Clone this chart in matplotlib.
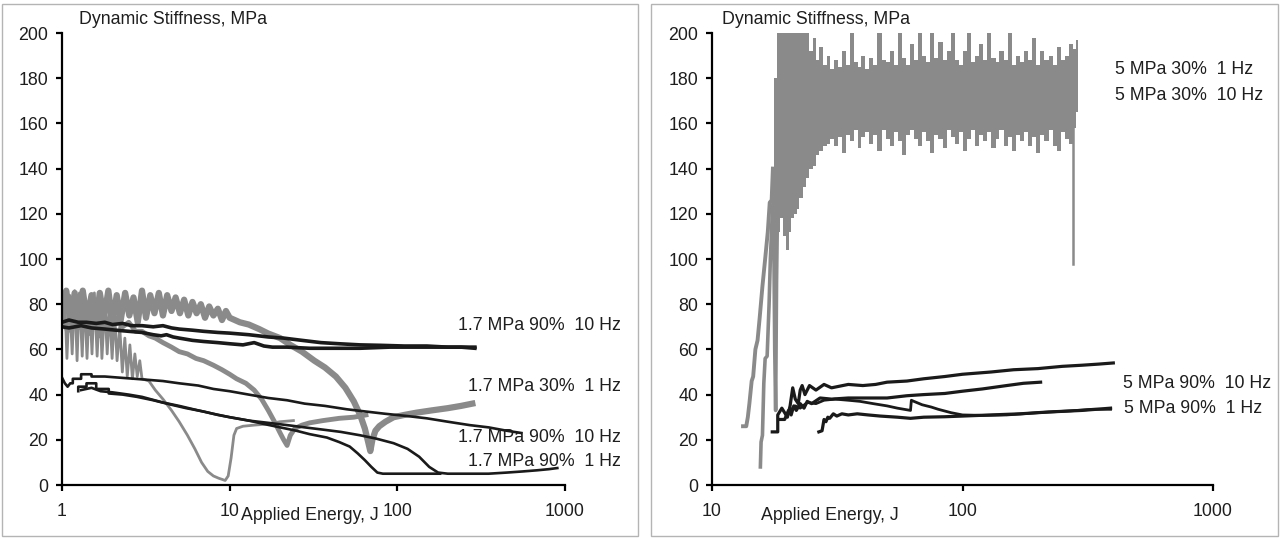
import matplotlib
matplotlib.use("Agg")
import matplotlib.pyplot as plt
from matplotlib.patches import Rectangle

plt.rcParams['font.family'] = ['Liberation Sans', 'DejaVu Sans']

# ---------------- data: left panel (1.7 MPa) ----------------
g1_x = [1.0, 1.035, 1.07, 1.11, 1.15, 1.19, 1.23, 1.27, 1.32, 1.36, 1.41, 1.46, 1.51, 1.56, 1.62, 1.68,
        1.73, 1.8, 1.86, 1.92, 1.99, 2.06, 2.13, 2.21, 2.29, 2.37, 2.45, 2.54, 2.63, 2.72, 2.81, 2.91,
        3.0, 3.3, 3.6, 4.0, 4.5, 5.0, 5.6, 6.2, 6.8, 7.4, 8.0, 8.6, 9.0, 9.4, 9.8, 10.2,
        10.6, 11.0, 12, 14, 17, 20, 24]
g1_y = [70, 85, 56, 84, 58, 86, 55, 85, 57, 84, 56, 83, 58, 85, 57, 82,
        56, 80, 58, 78, 56, 76, 55, 70, 50, 65, 48, 62, 47, 58, 48, 55,
        47, 46, 42, 38, 33, 28, 22, 16, 10, 6, 4, 3, 2.5, 2, 4, 12,
        22, 25, 26, 26.5, 27, 28, 28.5]

g2_x = [1.0, 1.08, 1.16, 1.25, 1.35, 1.45, 1.56, 1.68, 1.8, 1.95, 2.1, 2.3, 2.5, 2.75, 3.0, 3.3,
        3.6, 4.0, 4.5, 5.0, 5.6, 6.3, 7.0, 8.0, 9.0, 10, 11, 12.5, 14, 15.5, 17, 18.5,
        20, 21, 22, 23, 24.5, 27, 30, 36, 45, 55, 65]
g2_y = [75, 68, 80, 70, 78, 67, 76, 66, 75, 68, 74, 70, 72, 68, 68, 66,
        65, 63, 61, 59, 58, 56, 55, 53, 51, 49, 47, 45, 42, 38, 33, 28,
        23, 20, 17.5, 22, 25, 26.5, 27.5, 28.5, 29.5, 30, 31]

g3_x = [1.0, 1.06, 1.12, 1.19, 1.26, 1.33, 1.41, 1.5, 1.59, 1.68, 1.78, 1.89, 2.0, 2.12, 2.24, 2.38,
        2.52, 2.67, 2.83, 3.0, 3.17, 3.36, 3.56, 3.78, 4.0, 4.24, 4.5, 4.76, 5.05, 5.35, 5.67, 6.0,
        6.35, 6.73, 7.13, 7.55, 8.0, 8.5, 9.0, 9.5, 10.0, 11.5, 13, 15, 17, 20,
        23, 27, 32, 37, 43, 49, 55, 60, 64, 67, 69, 71, 74, 78, 85, 95,
        110, 130, 160, 200, 240, 280]
g3_y = [80, 86, 72, 85, 70, 86, 73, 84, 71, 85, 74, 86, 72, 84, 73, 85,
        75, 83, 72, 86, 74, 84, 76, 85, 75, 84, 77, 83, 76, 82, 75, 81,
        76, 80, 74, 79, 75, 78, 73, 77, 74, 72, 71, 69, 67, 65,
        62, 59, 55, 52, 48, 43, 37, 31, 25, 19, 15, 20, 24, 26, 28, 30,
        31, 32, 33, 34, 35, 36]

b1_x = [1.0, 1.1, 1.25, 1.4, 1.6, 1.8, 2.0, 2.3, 2.6, 3.0, 3.5, 4.0, 4.5, 5.0, 6, 7,
        8.5, 10, 13, 17, 21, 27, 35, 45, 60, 80, 110, 150, 200, 240, 290]
b1_y = [72, 73, 72, 72, 71.5, 72, 71, 71.5, 70.5, 70.5, 70, 70.5, 69.5, 69, 68.5, 68,
        67.5, 67.2, 66.5, 65.5, 65, 64, 63, 62.5, 62, 61.8, 61.5, 61.5, 61, 61, 60.5]

b2_x = [1.0, 1.1, 1.3, 1.5, 1.8, 2.1, 2.5, 3.0, 3.5, 3.9, 4.2, 4.6, 5.0, 6, 7, 8.5,
        10, 12, 14, 16, 18, 22, 30, 40, 60, 90, 130, 180, 240, 290]
b2_y = [70, 69.5, 70.5, 69.5, 69, 68.5, 68, 67.5, 66.5, 66, 66.5, 65.5, 65, 64, 63.5, 63,
        62.5, 62, 63, 61.5, 61, 61, 60.5, 60.5, 60.5, 61, 61, 61, 61, 61]

b3_x = [1.0, 1.04, 1.08, 1.12, 1.16, 1.16, 1.3, 1.3, 1.5, 1.5, 1.8, 2.2, 2.7, 3.3, 4.0, 5.0,
        6.5, 8, 10, 13, 17, 22, 28, 37, 50, 65, 85, 115, 150, 200, 270, 350, 450, 550]
b3_y = [47.5, 45, 43.5, 45, 45, 47, 47, 49, 49, 48, 48, 47.5, 47, 46.5, 46, 45,
        44, 42.5, 41.5, 40, 38.5, 37.5, 36, 35, 33.5, 32.5, 31.5, 30.5, 29.5, 28, 26.5, 25.5, 24, 23]

b4_x = [1.25, 1.25, 1.4, 1.4, 1.6, 1.6, 1.9, 1.9, 2.3, 2.8, 3.5, 4.5, 5.5, 7, 8.5, 10,
        13, 16, 20, 25, 30, 38, 45, 52, 58, 64, 70, 76, 82, 90, 120, 180]
b4_y = [41.5, 43.5, 43.5, 45, 45, 42.5, 42.5, 40.5, 40, 39, 37.5, 35.5, 34, 32.5, 31, 30,
        28.5, 27, 25.5, 24, 22.5, 21, 19, 17, 14, 11, 8, 5.5, 5, 5, 5, 5]

b5_x = [1.3, 1.5, 1.7, 2.0, 2.5, 3.0, 4.0, 5.0, 6.5, 8.0, 10, 13, 17, 22, 28, 36,
        46, 60, 75, 95, 115, 135, 155, 175, 200, 260, 350, 450, 560, 680, 800, 900]
b5_y = [42, 43, 41.5, 41, 40, 39, 36.5, 35, 33, 31.5, 30, 28.5, 27.5, 26.5, 25.5, 24.5,
        23.5, 22, 20.5, 18.5, 16, 12.5, 8, 5.5, 5, 5, 5, 5.5, 6, 6.5, 7, 7.5]

left_labels = ["1.7 MPa 90%  10 Hz", "1.7 MPa 30%  1 Hz", "1.7 MPa 90%  10 Hz", "1.7 MPa 90%  1 Hz"]
left_label_y = [70.7, 43.8, 21.0, 10.5]

# ---------------- data: right panel (5 MPa) ----------------
gr1_x = [13.3, 13.7, 13.9, 14.1, 14.4, 14.6, 14.9, 15.2, 15.5, 15.9, 16.3, 16.7, 17.0, 17.3, 17.5]
gr1_y = [26, 26, 30, 36, 46, 48, 60, 64, 74, 88, 100, 112, 125, 126, 140]
gr2_x = [15.6, 15.7, 15.9, 16.1, 16.3, 16.6, 16.9, 17.1, 17.4, 17.6, 17.8, 17.95, 18.1, 18.3]
gr2_y = [8, 19, 22, 45, 56, 57, 80, 100, 120, 126, 60, 33, 90, 130]

band_x = [17.5, 18.0, 18.5, 19.0, 19.5, 20.0, 20.5, 21.0, 21.5, 22.0,
          22.7, 23.4, 24.1, 24.8, 25.6, 26.4, 27.3, 28.2, 29.2, 30.2,
          31.3, 32.4, 33.6, 34.8, 36.1, 37.4, 38.8, 40.2, 41.7, 43.3,
          44.9, 46.6, 48.4, 50.2, 52.1, 54.1, 56.2, 58.3, 60.5, 62.8,
          65.2, 67.7, 70.3, 73.0, 75.8, 78.7, 81.7, 84.8, 88.0, 91.4,
          94.9, 98.5, 102, 106, 110, 114, 119, 123, 128, 133,
          138, 143, 149, 154, 160, 166, 173, 179, 186, 193,
          201, 208, 216, 225, 233, 242, 252, 261, 271, 280,
          289]
band_hi = [140, 180, 200, 200, 200, 200, 200, 200, 200, 200,
           200, 200, 200, 192, 198, 188, 194, 186, 190, 184,
           188, 185, 192, 186, 200, 187, 185, 190, 184, 189,
           186, 200, 188, 187, 192, 186, 200, 189, 186, 195,
           188, 200, 190, 187, 200, 189, 196, 188, 192, 200,
           188, 186, 192, 200, 187, 190, 195, 188, 200, 189,
           187, 192, 188, 200, 186, 190, 187, 192, 188, 198,
           186, 192, 188, 190, 186, 194, 188, 190, 195, 193,
           197]
band_lo = [120, 116, 112, 118, 110, 104, 112, 118, 120, 122,
           127, 132, 136, 140, 141, 146, 148, 150, 151, 153,
           150, 154, 147, 155, 152, 157, 149, 154, 156, 151,
           155, 148, 157, 153, 150, 156, 152, 146, 155, 157,
           153, 150, 156, 152, 147, 155, 153, 149, 157, 154,
           151, 156, 148, 153, 157, 150, 155, 152, 156, 149,
           153, 157, 150, 154, 148, 155, 152, 156, 150, 154,
           147, 155, 152, 157, 150, 148, 156, 153, 151, 158,
           165]
drop_x = [275, 275]
drop_y = [165, 98]

r1_x = [17.4, 18.3, 18.3, 19, 20, 20.5, 21, 21.5, 22.1, 22.5, 22.9, 23.5, 24.5, 26, 28, 30,
        35, 40, 45, 50, 60, 70, 85, 100, 130, 160, 200, 250, 300, 350, 400]
r1_y = [23.5, 23.5, 31, 34, 30, 35, 43, 38, 36, 42, 44, 40, 44, 42, 44.5, 43,
        44.5, 44, 44.5, 45.5, 46, 47, 48, 49, 50, 51, 51.5, 52.5, 53, 53.5, 54]

r2_x = [18.6, 19.5, 20.2, 20.7, 21.2, 21.7, 22.5, 23.3, 24, 25, 27, 30, 35, 40, 50, 60,
        70, 85, 100, 120, 150, 175, 205]
r2_y = [29, 29, 33, 31, 35, 33, 36, 34, 37, 36, 38.5, 38, 38.5, 38.5, 38.5, 39.5,
        40, 40.5, 41.5, 42.5, 44, 45, 45.5]

r3_x = [20.5, 21.5, 22.5, 24, 26, 28, 31, 35, 39, 44, 50, 55, 62, 62.5, 64, 69,
        75, 80, 90, 100, 120, 150, 200, 270, 330, 390]
r3_y = [33, 35, 34, 36.5, 36, 37.5, 38, 37.5, 37, 36, 35, 34, 33, 37.5, 37, 35.5,
        34.5, 33.5, 32, 31, 30.8, 31, 32, 32.8, 33.5, 33.5]

r4_x = [26.7, 27.5, 28, 28.5, 29, 29.5, 30.5, 31.5, 33, 35, 38, 42, 47, 55, 62, 70,
        85, 100, 130, 170, 220, 300, 390]
r4_y = [23.5, 24, 29, 28, 30, 29.5, 31.5, 30.5, 31.5, 31, 31.5, 31, 30.5, 30, 29.5, 30,
        30.2, 30.5, 31, 31.5, 32.3, 33, 34]

right_labels = ["5 MPa 30%  1 Hz", "5 MPa 30%  10 Hz", "5 MPa 90%  10 Hz", "5 MPa 90%  1 Hz"]
right_label_y = [184, 172.5, 45, 34]

yticks = [0, 20, 40, 60, 80, 100, 120, 140, 160, 180, 200]
left_xticks = [1, 10, 100, 1000]
right_xticks = [10, 100, 1000]

# ---------------- drawing ----------------
GRAY = '#8a8a8a'
BLACK = '#1a1a1a'
TXT = '#1e1e1e'
FS = 12.8

fig = plt.figure(figsize=(12.81, 5.39), dpi=100)
W, H = 1281, 539

# panel frames
for (x0, x1) in [(2, 638), (651, 1278)]:
    fig.patches.append(Rectangle((x0 / W, 3 / H), (x1 - x0) / W, (535 - 3) / H,
                                 transform=fig.transFigure, fill=False,
                                 edgecolor='#b4b4b4', linewidth=1.0))

axL = fig.add_axes([62 / W, (H - 485) / H, (565 - 62) / W, (485 - 33) / H])
axR = fig.add_axes([712 / W, (H - 485) / H, (1213 - 712) / W, (485 - 33) / H])


def style(ax, xlim, xticks):
    ax.set_xscale('log')
    ax.set_xlim(*xlim)
    ax.set_ylim(0, 200)
    ax.set_yticks(yticks)
    ax.set_yticklabels([str(v) for v in yticks])
    ax.set_xticks(xticks)
    ax.set_xticklabels([str(v) for v in xticks])
    ax.xaxis.set_minor_locator(matplotlib.ticker.NullLocator())
    for s in ['top', 'right']:
        ax.spines[s].set_visible(False)
    for s in ['left', 'bottom']:
        ax.spines[s].set_linewidth(1.6)
        ax.spines[s].set_color('black')
    ax.tick_params(axis='both', direction='out', length=4, width=1.6,
                   labelsize=FS, labelcolor=TXT, color='black')
    ax.tick_params(axis='x', pad=9)
    ax.tick_params(axis='y', pad=6)
    ax.patch.set_alpha(0)


style(axL, (1, 1000), left_xticks)
style(axR, (10, 1000), right_xticks)

# left panel
axL.plot(g1_x, g1_y, color=GRAY, lw=2.0)
axL.plot(g2_x, g2_y, color=GRAY, lw=3.5)
axL.plot(g3_x, g3_y, color=GRAY, lw=4.5)
axL.plot(b1_x, b1_y, color=BLACK, lw=2.6)
axL.plot(b2_x, b2_y, color=BLACK, lw=2.6)
axL.plot(b3_x, b3_y, color=BLACK, lw=1.9)
axL.plot(b4_x, b4_y, color=BLACK, lw=1.9)
axL.plot(b5_x, b5_y, color=BLACK, lw=1.9)

for lab, yv in zip(left_labels, left_label_y):
    axL.text(1.111, yv, lab, transform=axL.get_yaxis_transform(), ha='right', va='center',
             fontsize=FS, color=TXT, clip_on=False)

axL.text(0.034, 1.03, "Dynamic Stiffness, MPa", transform=axL.transAxes, ha='left',
         va='center', fontsize=FS, color=TXT)
axL.text(0.493, -0.068, "Applied Energy, J", transform=axL.transAxes, ha='center',
         va='center', fontsize=FS, color=TXT)

# right panel
axR.fill_between(band_x, band_lo, band_hi, step='mid', color=GRAY, linewidth=0)
axR.plot(gr1_x, gr1_y, color=GRAY, lw=2.8)
axR.plot(gr2_x, gr2_y, color=GRAY, lw=2.6)
axR.plot(drop_x, drop_y, color=GRAY, lw=1.8)
axR.plot(r1_x, r1_y, color=BLACK, lw=2.3)
axR.plot(r2_x, r2_y, color=BLACK, lw=2.3)
axR.plot(r3_x, r3_y, color=BLACK, lw=2.0)
axR.plot(r4_x, r4_y, color=BLACK, lw=2.3)

right_label_x = [0.804, 0.804, 0.82, 0.822]
for lab, yv, xv in zip(right_labels, right_label_y, right_label_x):
    axR.text(xv, yv, lab, transform=axR.get_yaxis_transform(), ha='left', va='center',
             fontsize=FS, color=TXT, clip_on=False)

axR.text(0.02, 1.03, "Dynamic Stiffness, MPa", transform=axR.transAxes, ha='left',
         va='center', fontsize=FS, color=TXT)
axR.text(0.236, -0.068, "Applied Energy, J", transform=axR.transAxes, ha='center',
         va='center', fontsize=FS, color=TXT)

fig.savefig('out.png', dpi=100)
